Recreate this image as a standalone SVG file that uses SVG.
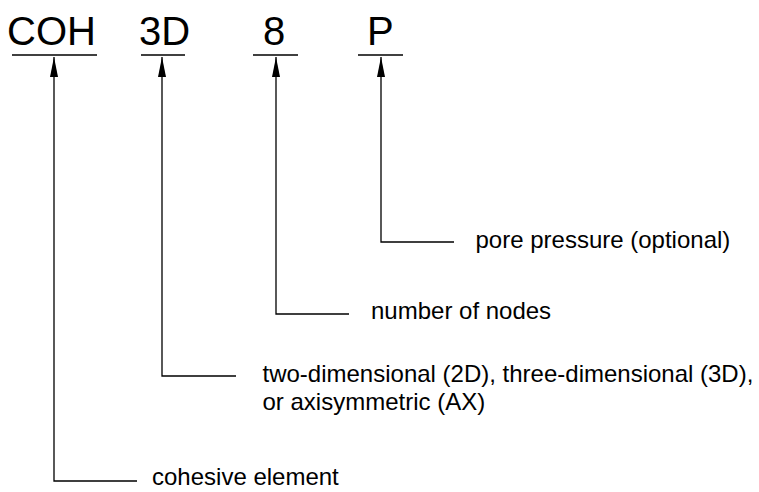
<svg xmlns="http://www.w3.org/2000/svg" width="759" height="492" viewBox="0 0 759 492">
<style>
.t{font-family:"Liberation Sans",Arial,sans-serif;font-size:40px;fill:#000}
.l{font-family:"Liberation Sans",Arial,sans-serif;font-size:24px;fill:#000}
.ln{stroke:#000;stroke-width:1.3;fill:none}
</style>
<defs>
<marker id="ah" viewBox="0 0 20 8" refX="20" refY="4" markerWidth="20" markerHeight="8" markerUnits="userSpaceOnUse" orient="auto">
<path d="M0,0 L20,4 L0,8 Z" fill="#000"/>
</marker>
</defs>
<g id="coh"><text class="t" x="7" y="45">COH</text><line class="ln" x1="12" y1="55" x2="97" y2="55"/><text class="l" x="152" y="485">cohesive element</text></g>
<g id="dim"><text class="t" x="139" y="45">3D</text><line class="ln" x1="141" y1="55" x2="185" y2="55"/><text class="l" x="262.5" y="382">two-dimensional (2D), three-dimensional (3D),</text><text class="l" x="262.5" y="410">or axisymmetric (AX)</text></g>
<g id="nodes"><text class="t" x="263" y="45">8</text><line class="ln" x1="253" y1="55" x2="298" y2="55"/><text class="l" x="371" y="319">number of nodes</text></g>
<g id="pore"><text class="t" x="367" y="45">P</text><line class="ln" x1="358" y1="55" x2="403" y2="55"/><text class="l" x="475.5" y="248">pore pressure (optional)</text></g>
<g id="connectors">
<path class="ln" d="M137,481 H54 V57" marker-end="url(#ah)"/>
<path class="ln" d="M236,376 H162 V57" marker-end="url(#ah)"/>
<path class="ln" d="M349,314 H276 V57" marker-end="url(#ah)"/>
<path class="ln" d="M454,242 H381 V57" marker-end="url(#ah)"/>
</g>
</svg>
